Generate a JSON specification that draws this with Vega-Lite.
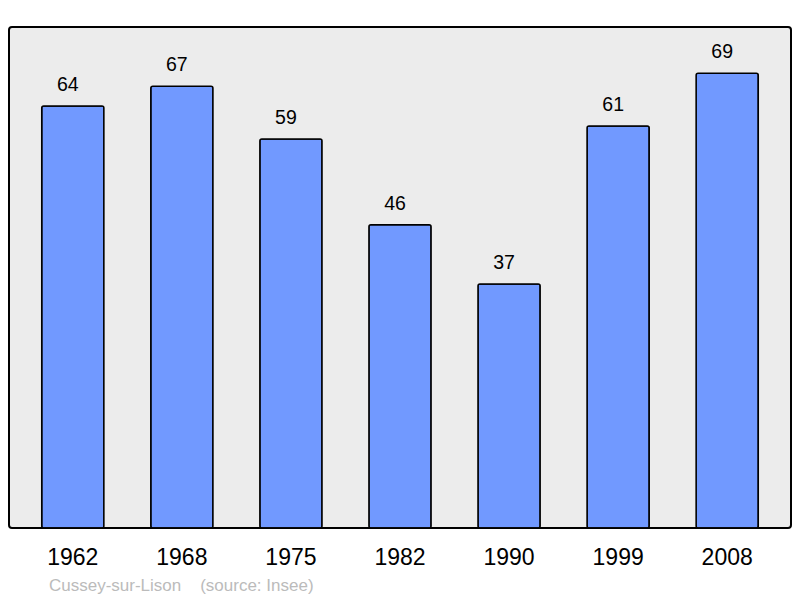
{
  "$schema": "https://vega.github.io/schema/vega-lite/v6.json",
  "autosize": {"type": "none"},
  "width": 782,
  "height": 501,
  "padding": {"left": 9, "top": 27, "right": 9, "bottom": 70},
  "background": "#ffffff",
  "config": {
    "font": "Liberation Sans",
    "view": {"fill": "#ececec", "stroke": "#000000", "strokeWidth": 2, "cornerRadius": 3}
  },
  "data": {
    "values": [
      {"year": "1962", "pop": 64},
      {"year": "1968", "pop": 67},
      {"year": "1975", "pop": 59},
      {"year": "1982", "pop": 46},
      {"year": "1990", "pop": 37},
      {"year": "1999", "pop": 61},
      {"year": "2008", "pop": 69}
    ]
  },
  "title": {
    "text": "Cussey-sur-Lison\u00a0\u00a0\u00a0\u00a0(source: Insee)",
    "orient": "bottom",
    "anchor": "start",
    "frame": "group",
    "dx": 40,
    "offset": 22,
    "baseline": "alphabetic",
    "fontSize": 17,
    "fontWeight": "normal",
    "color": "#bbbbbb",
    "font": "Liberation Sans"
  },
  "encoding": {
    "x": {
      "field": "year",
      "type": "ordinal",
      "scale": {"paddingInner": 0.43, "paddingOuter": 0.3},
      "axis": {
        "title": null,
        "domain": false,
        "ticks": false,
        "labelAngle": 0,
        "labelFontSize": 23,
        "labelColor": "#000000",
        "labelBaseline": "alphabetic",
        "labelPadding": 36
      }
    },
    "y": {
      "field": "pop",
      "type": "quantitative",
      "scale": {"domain": [0, 76], "nice": false},
      "axis": null
    }
  },
  "layer": [
    {
      "mark": {"type": "bar", "fill": "#7199ff", "stroke": "#000000", "strokeWidth": 1.5, "cornerRadius": 2}
    },
    {
      "mark": {"type": "text", "baseline": "alphabetic", "dy": -15, "dx": -5, "fontSize": 19.5, "color": "#000000"},
      "encoding": {"text": {"field": "pop", "type": "quantitative"}}
    }
  ]
}
